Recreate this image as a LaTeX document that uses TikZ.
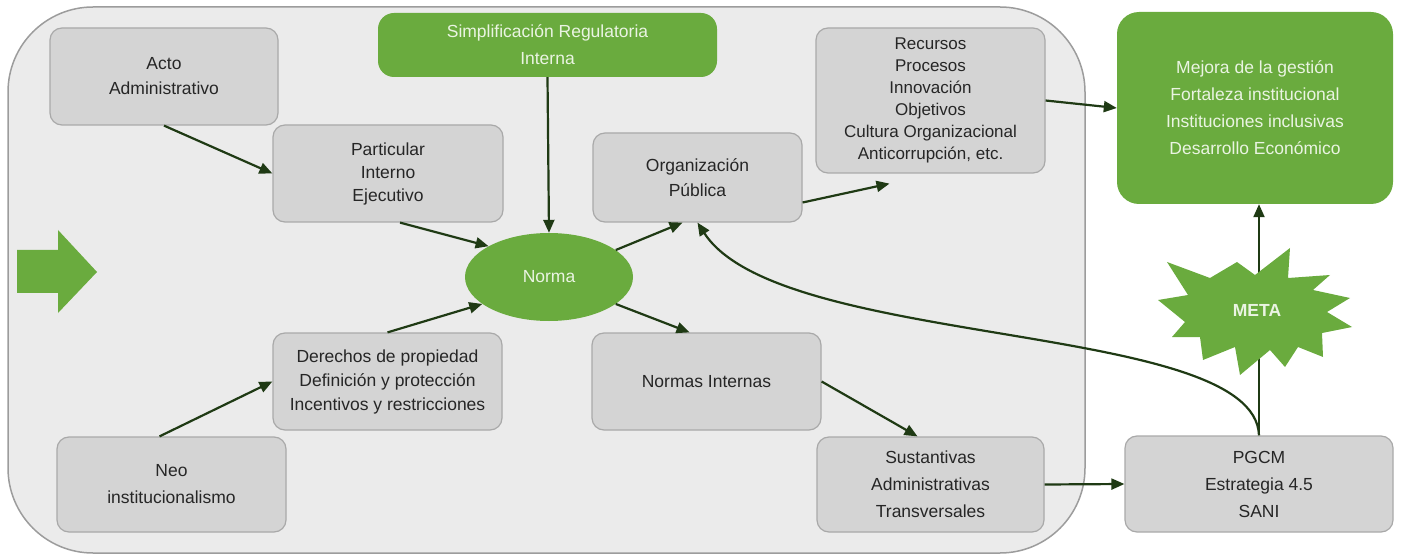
\documentclass[tikz,border=0pt]{standalone}
\usepackage{fontspec}
\setmainfont{Liberation Sans}
\usetikzlibrary{arrows.meta,shapes.geometric}
\definecolor{verde}{HTML}{6AAB3E}
\definecolor{oscuro}{HTML}{1F3A14}
\definecolor{gris}{HTML}{D4D4D4}
\definecolor{borde}{HTML}{A9A9A9}
\definecolor{fondo}{HTML}{EBEBEB}
\definecolor{marco}{HTML}{9C9C9C}
\definecolor{claro}{HTML}{EAF4E2}
\definecolor{texto}{HTML}{262626}
\begin{document}
\begin{tikzpicture}[x=1pt,y=-1pt,>={Triangle[length=13pt,width=11pt]},line join=round,
  caja/.style={draw=borde,fill=gris,line width=1.2pt,rounded corners=12pt,align=center,inner sep=0pt,text=texto,font=\fontsize{17.5}{25}\selectfont},
  cajav/.style={fill=verde,rounded corners=16pt,align=center,inner sep=0pt,text=claro,font=\fontsize{17.5}{27}\selectfont},
  flecha/.style={->,draw=oscuro,line width=2.2pt}]
	\useasboundingbox (0,0) rectangle (1401,556);
	% marco general
	\draw[fill=fondo,draw=marco,line width=1.5pt,rounded corners=85pt] (8,7) rectangle (1085,553);
	% flecha verde de entrada
	\fill[verde] (17,250)--(58,250)--(58,230)--(97,272)--(58,313)--(58,293)--(17,293)--cycle;
	% cajas
	\node[caja,minimum width=228pt,minimum height=97pt] (acto) at (164,76.5) {Acto\\Administrativo};
	\node[cajav,minimum width=339pt,minimum height=64pt] (simp) at (547.5,45) {Simplificación Regulatoria\\Interna};
	\node[caja,minimum width=230pt,minimum height=97pt,font=\fontsize{17.5}{23}\selectfont] (part) at (388,173.5) {Particular\\Interno\\Ejecutivo};
	\node[caja,minimum width=209pt,minimum height=89pt] (org) at (697.5,177.5) {Organización\\Pública};
	\node[caja,minimum width=229pt,minimum height=145pt,font=\fontsize{17}{22}\selectfont] (rec) at (930.5,100.5) {Recursos\\Procesos\\Innovación\\Objetivos\\Cultura Organizacional\\Anticorrupción, etc.};
	\node[cajav,minimum width=276pt,minimum height=192pt,rounded corners=22pt] (mejora) at (1255,108) {Mejora de la gestión\\Fortaleza institucional\\Instituciones inclusivas\\Desarrollo Económico};
	\node[ellipse,fill=verde,text=claro,minimum width=168pt,minimum height=88pt,inner sep=0pt,font=\fontsize{17.5}{25}\selectfont] (norma) at (549,277) {Norma};
	\node[caja,minimum width=229pt,minimum height=97pt,font=\fontsize{17.5}{24}\selectfont] (der) at (387.5,381.5) {Derechos de propiedad\\Definición y protección\\Incentivos y restricciones};
	\node[caja,minimum width=229pt,minimum height=97pt] (ni) at (706.5,381.5) {Normas Internas};
	\node[caja,minimum width=229pt,minimum height=95pt,font=\fontsize{17.5}{27}\selectfont] (neo) at (171.5,484.5) {Neo\\institucionalismo};
	\node[caja,minimum width=227pt,minimum height=95pt,font=\fontsize{17.5}{27}\selectfont] (sust) at (930.5,484.5) {Sustantivas\\Administrativas\\Transversales};
	\node[caja,minimum width=268pt,minimum height=96pt,font=\fontsize{17.5}{27}\selectfont] (pgcm) at (1259,484) {PGCM\\Estrategia 4.5\\SANI};
	% conectores
	\draw[flecha] (acto.south) -- (part.west);
	\draw[flecha] ([xshift=12pt]part.south) -- (norma.153);
	\draw[flecha] (simp.south) -- (norma.north);
	\draw[flecha] (der.north) -- (norma.202);
	\draw[flecha] ([xshift=-12pt]neo.north) -- (der.west);
	\draw[flecha] (norma.22) -- ([xshift=-15pt]org.south);
	\draw[flecha] (norma.-22) -- ([xshift=-17pt]ni.north);
	\draw[flecha] ([yshift=-25pt]org.east) -- ([xshift=-41pt,yshift=-10pt]rec.south);
	\draw[flecha] (rec.east) -- (mejora.west);
	\draw[flecha] (ni.east) -- ([xshift=-13pt]sust.north);
	\draw[flecha] (sust.east) -- (pgcm.west);
	\draw[flecha] (pgcm.north) -- (pgcm.north |- mejora.south);
	\draw[flecha] (pgcm.north) .. controls (1255,320) and (780,350) .. (org.south);
	% estrella META
	\fill[verde] (1167,262)--(1210,278)--(1237,262)--(1255,275)--(1290,248)--(1288,278)--(1330,275)--(1313,290)
		--(1350,298)--(1327,312)--(1352,327)--(1322,333)--(1323,357)--(1298,347)--(1285,367)--(1270,350)
		--(1240,375)--(1235,347)--(1203,360)--(1200,337)--(1172,337)--(1185,322)--(1158,300)--(1188,295)--cycle;
	\node[text=claro,font=\fontsize{17.5}{20}\selectfont\bfseries] (meta) at (1257,310) {META};
\end{tikzpicture}
\end{document}
